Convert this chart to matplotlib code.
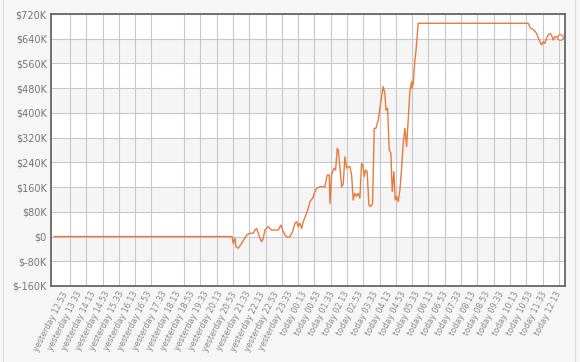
import numpy as np
import matplotlib
matplotlib.use("Agg")
import matplotlib.pyplot as plt
from matplotlib.lines import Line2D

# minutes after "yesterday 12:53"
minutes = [
    -21, 484, 487.5, 492.3, 495.1, 501.7, 506.5, 514.1, 525.5, 533.0, 544.3,
    549.1, 553.9, 558.5, 563.3, 568.1, 572.6, 577.4, 586.8, 591.6, 596.5,
    605.8, 615.2, 622.9, 627.7, 634.2, 640.7, 648.4, 656.1, 662.6, 667.4,
    672.0, 676.8, 681.6, 686.2, 693.8, 700.4, 705.2, 712.8, 719.4, 724.2,
    733.6, 747.7, 754.3, 760.0, 762.0, 766.8, 773.3, 778.1, 782.7, 785.5,
    790.3, 795.2, 799.7, 804.5, 809.3, 813.9, 818.7, 823.5, 828.1, 832.9,
    837.7, 842.3, 847.1, 851.9, 856.5, 859.3, 863.3, 867.8, 872.6, 877.5,
    883.1, 887.7, 892.5, 899.1, 905.9, 913.2, 918.1, 920.9, 925.7, 930.3,
    935.1, 938.8, 943.6, 947.3, 951.3, 955.8, 960.6, 965.5, 970.0, 974.8,
    979.6, 984.2, 989.0, 993.9, 995.5, 998.4, 1003.2, 1006.1, 1012.6,
    1324.8, 1331.6, 1339.0, 1343.8, 1348.7, 1356.0, 1362.8, 1367.4, 1372.2,
    1377.0, 1381.6, 1386.4, 1391.2, 1395.8, 1400.6, 1405.4, 1414.8,
]
# value in thousands of dollars
values_k = [
    0, 0, -22, -5, -33, -38, -30, -17, 5, 10, 11,
    21, 26, 11, -6, -17, -6, 21, 32, 26, 21,
    21, 21, 37, 21, 5, -2, 0, 16, 43, 48,
    32, 43, 26, 48, 70, 91, 113, 124, 145, 156,
    161, 161, 199, 199, 107, 199, 221, 215, 285, 280,
    226, 161, 170, 258, 221, 226, 226, 199, 118, 140,
    130, 140, 124, 237, 226, 194, 215, 210, 102, 97,
    107, 350, 350, 377, 431, 485, 463, 409, 415, 280,
    270, 145, 210, 118, 130, 113, 150, 221, 302, 350,
    291, 377, 469, 501, 480, 495, 571, 598, 690,
    690, 674, 670, 665, 657, 636, 620, 630, 625,
    641, 652, 657, 652, 636, 647, 645, 645,
]

tick_minutes = list(range(0, 1401, 40))
tick_labels = (
    ["yesterday %s" % t for t in [
        "12:53", "13:33", "14:13", "14:53", "15:33", "16:13", "16:53", "17:33",
        "18:13", "18:53", "19:33", "20:13", "20:53", "21:33", "22:13", "22:53",
        "23:33"]]
    + ["today %s" % t for t in [
        "00:13", "00:53", "01:33", "02:13", "02:53", "03:33", "04:13", "04:53",
        "05:33", "06:13", "06:53", "07:33", "08:13", "08:53", "09:33", "10:13",
        "10:53", "11:33", "12:13"]]
)
y_ticks = list(range(-160, 721, 80))

LINE = "#e97a3c"

fig = plt.figure(figsize=(5.8, 3.62), dpi=100, facecolor="#f6f6f6")
ax = fig.add_axes([0.0879, 0.21, 0.886, 0.7513])
ax.set_facecolor("white")

# alternating bands
for i, lo in enumerate(y_ticks[:-1]):
    if i % 2 == 1:
        ax.axhspan(lo, lo + 80, color="#f5f5f5", zorder=0, lw=0)

# vertical grid (its own spacing, one line missing in the reference)
vgrid = [23.9 + 46.27 * k for k in range(31) if k != 6]
for xv in vgrid:
    ax.axvline(xv, color="#c8c8c8", lw=0.8, zorder=1)
for yv in y_ticks:
    ax.axhline(yv, color="#c8c8c8", lw=0.8, zorder=1)

ax.plot(minutes, values_k, color=LINE, lw=1.0, zorder=3, solid_joinstyle="round")
ax.plot(minutes[-1], values_k[-1], "o", ms=4, mfc="white", mec=LINE, mew=0.9, zorder=4)

ax.set_xlim(-30, 1429)
ax.set_ylim(-160, 720)
ax.set_yticks(y_ticks)
ax.set_yticklabels(["$%dK" % v if v != 0 else "$0" for v in y_ticks])
ax.set_xticks(tick_minutes)
ax.set_xticklabels(tick_labels, rotation=63, ha="right", va="top",
                   rotation_mode="anchor")
ax.tick_params(axis="both", length=0)
ax.tick_params(axis="y", labelsize=7, pad=3, colors="#777777")
ax.tick_params(axis="x", labelsize=5.8, pad=3, colors="#8a8a8a")

for s in ax.spines.values():
    s.set_color("#666666")
    s.set_linewidth(1.3)
    s.set_zorder(5)

# outer frame sides
for xf in (0.006, 0.991):
    fig.add_artist(Line2D([xf, xf], [0, 1], transform=fig.transFigure,
                          color="#dddddd", lw=0.8))

fig.savefig("out.png", dpi=100, facecolor=fig.get_facecolor())
